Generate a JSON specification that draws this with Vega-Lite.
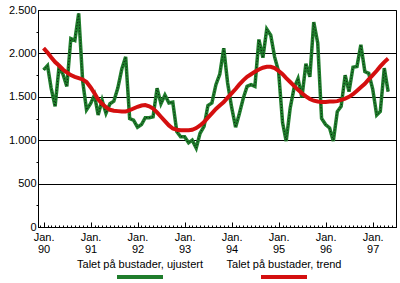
{
  "$schema": "https://vega.github.io/schema/vega-lite/v6.json",
  "width": 358,
  "height": 217,
  "autosize": "none",
  "padding": {"left": 38, "top": 10, "right": 4, "bottom": 56},
  "background": "white",
  "config": {
    "view": {"stroke": "black", "strokeWidth": 1},
    "font": "Liberation Sans",
    "style": {"guide-label": {"lineHeight": 25}}
  },
  "data": {"values": [
    {"d":"1990-01-01","u":1810,"t":2060},{"d":"1990-02-01","u":1860,"t":2010},{"d":"1990-03-01","u":1600,"t":1955},{"d":"1990-04-01","u":1390,"t":1900},
    {"d":"1990-05-01","u":1840,"t":1860},{"d":"1990-06-01","u":1760,"t":1815},{"d":"1990-07-01","u":1620,"t":1780},{"d":"1990-08-01","u":2170,"t":1750},
    {"d":"1990-09-01","u":2150,"t":1730},{"d":"1990-10-01","u":2460,"t":1715},{"d":"1990-11-01","u":1680,"t":1700},{"d":"1990-12-01","u":1350,"t":1670},
    {"d":"1991-01-01","u":1420,"t":1610},{"d":"1991-02-01","u":1520,"t":1540},{"d":"1991-03-01","u":1290,"t":1470},{"d":"1991-04-01","u":1460,"t":1420},
    {"d":"1991-05-01","u":1310,"t":1380},{"d":"1991-06-01","u":1420,"t":1350},{"d":"1991-07-01","u":1450,"t":1340},{"d":"1991-08-01","u":1600,"t":1335},
    {"d":"1991-09-01","u":1820,"t":1330},{"d":"1991-10-01","u":1960,"t":1330},{"d":"1991-11-01","u":1250,"t":1345},{"d":"1991-12-01","u":1230,"t":1365},
    {"d":"1992-01-01","u":1150,"t":1385},{"d":"1992-02-01","u":1180,"t":1400},{"d":"1992-03-01","u":1260,"t":1405},{"d":"1992-04-01","u":1260,"t":1390},
    {"d":"1992-05-01","u":1270,"t":1365},{"d":"1992-06-01","u":1600,"t":1320},{"d":"1992-07-01","u":1420,"t":1270},{"d":"1992-08-01","u":1520,"t":1220},
    {"d":"1992-09-01","u":1430,"t":1170},{"d":"1992-10-01","u":1440,"t":1135},{"d":"1992-11-01","u":1100,"t":1120},{"d":"1992-12-01","u":1040,"t":1115},
    {"d":"1993-01-01","u":1040,"t":1115},{"d":"1993-02-01","u":970,"t":1115},{"d":"1993-03-01","u":1000,"t":1120},{"d":"1993-04-01","u":910,"t":1140},
    {"d":"1993-05-01","u":1080,"t":1170},{"d":"1993-06-01","u":1160,"t":1210},{"d":"1993-07-01","u":1400,"t":1260},{"d":"1993-08-01","u":1430,"t":1310},
    {"d":"1993-09-01","u":1640,"t":1360},{"d":"1993-10-01","u":1760,"t":1400},{"d":"1993-11-01","u":2060,"t":1440},{"d":"1993-12-01","u":1660,"t":1490},
    {"d":"1994-01-01","u":1380,"t":1540},{"d":"1994-02-01","u":1150,"t":1590},{"d":"1994-03-01","u":1300,"t":1640},{"d":"1994-04-01","u":1480,"t":1690},
    {"d":"1994-05-01","u":1620,"t":1730},{"d":"1994-06-01","u":1640,"t":1760},{"d":"1994-07-01","u":1620,"t":1790},{"d":"1994-08-01","u":2160,"t":1815},
    {"d":"1994-09-01","u":1950,"t":1835},{"d":"1994-10-01","u":2280,"t":1845},{"d":"1994-11-01","u":2210,"t":1845},{"d":"1994-12-01","u":1960,"t":1830},
    {"d":"1995-01-01","u":1790,"t":1800},{"d":"1995-02-01","u":1200,"t":1760},{"d":"1995-03-01","u":990,"t":1715},{"d":"1995-04-01","u":1370,"t":1670},
    {"d":"1995-05-01","u":1600,"t":1625},{"d":"1995-06-01","u":1710,"t":1580},{"d":"1995-07-01","u":1490,"t":1540},{"d":"1995-08-01","u":1880,"t":1505},
    {"d":"1995-09-01","u":1730,"t":1475},{"d":"1995-10-01","u":2360,"t":1455},{"d":"1995-11-01","u":2120,"t":1445},{"d":"1995-12-01","u":1250,"t":1440},
    {"d":"1996-01-01","u":1180,"t":1440},{"d":"1996-02-01","u":1140,"t":1445},{"d":"1996-03-01","u":990,"t":1445},{"d":"1996-04-01","u":1330,"t":1450},
    {"d":"1996-05-01","u":1390,"t":1465},{"d":"1996-06-01","u":1750,"t":1480},{"d":"1996-07-01","u":1560,"t":1500},{"d":"1996-08-01","u":1840,"t":1530},
    {"d":"1996-09-01","u":1850,"t":1570},{"d":"1996-10-01","u":2100,"t":1610},{"d":"1996-11-01","u":1790,"t":1650},{"d":"1996-12-01","u":1770,"t":1700},
    {"d":"1997-01-01","u":1590,"t":1750},{"d":"1997-02-01","u":1290,"t":1800},{"d":"1997-03-01","u":1330,"t":1850},{"d":"1997-04-01","u":1830,"t":1900},
    {"d":"1997-05-01","u":1560,"t":1940}
  ]},
  "transform": [{"fold": ["u", "t"], "as": ["key", "v"]}],
  "encoding": {
    "x": {
      "field": "d", "type": "temporal",
      "scale": {"type": "utc", "domain": ["1989-11-19", "1997-07-01"]},
      "axis": {
        "title": null,
        "grid": false,
        "tickCount": {"interval": "month", "step": 1},
        "tickSize": {"condition": {"test": "utcmonth(datum.value) == 0", "value": -5}, "value": -2},
        "tickColor": "black",
        "domainColor": "black",
        "labelExpr": "utcmonth(datum.value) == 0 ? ['Jan.', utcFormat(datum.value, '%y')] : ''",
        "labelOverlap": false,
        "labelFlush": false,
        "labelBound": false,
        "labelPadding": 9,
        "labelFontSize": 11,
        "labelColor": "black",
        "labelLineHeight": 12
      }
    },
    "y": {
      "field": "v", "type": "quantitative",
      "scale": {"domain": [0, 2500], "nice": false},
      "axis": {
        "title": null,
        "values": [0, 250, 500, 750, 1000, 1250, 1500, 1750, 2000, 2250, 2500],
        "labelExpr": "datum.value % 500 == 0 ? replace(format(datum.value, ','), ',', '.') : ''",
        "grid": true,
        "gridColor": "black",
        "gridOpacity": {"condition": {"test": "datum.value % 500 == 0", "value": 1}, "value": 0},
        "tickSize": 2,
        "tickColor": "black",
        "tickOpacity": {"condition": {"test": "datum.value % 500 == 0", "value": 0}, "value": 1},
        "domainColor": "black",
        "labelPadding": 0,
        "labelFontSize": 11,
        "labelColor": "black"
      }
    }
  },
  "layer": [
    {
      "transform": [{"filter": "datum.key == 'u'"}],
      "mark": {"type": "line", "strokeWidth": 3.5},
      "encoding": {
        "color": {
          "field": "key", "type": "nominal",
          "scale": {"domain": ["u", "t"], "range": ["#1f7d2c", "#d40f0f"]},
          "legend": {
            "orient": "none",
            "legendX": 77,
            "legendY": 242,
            "direction": "horizontal",
            "title": null,
            "padding": 0,
            "symbolType": "stroke",
            "symbolSize": 2116,
            "symbolStrokeWidth": 4,
            "labelBaseline": "line-bottom",
            "labelAlign": "center",
            "labelOffset": -25,
            "columnPadding": 23,
            "labelFontSize": 11,
            "labelColor": "black",
            "labelLimit": 300,
            "labelExpr": "datum.value == 'u' ? 'Talet på bustader, ujustert' : 'Talet på bustader, trend'"
          }
        }
      }
    },
    {
      "transform": [{"filter": "datum.key == 'u'"}],
      "mark": {"type": "line", "strokeWidth": 1, "stroke": "black", "strokeDash": [1, 2], "opacity": 0.8},
      "encoding": {}
    },
    {
      "transform": [{"filter": "datum.key == 't'"}],
      "mark": {"type": "line", "strokeWidth": 4},
      "encoding": {
        "color": {"field": "key", "type": "nominal"}
      }
    }
  ]
}
